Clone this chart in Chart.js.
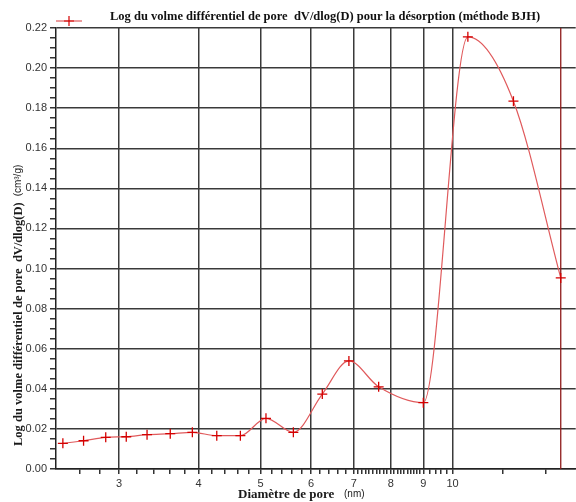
<!DOCTYPE html>
<html>
<head>
<meta charset="utf-8">
<script src="https://cdn.jsdelivr.net/npm/chart.js@4.4.1/dist/chart.umd.min.js"></script>
<style>
  html, body { margin: 0; padding: 0; background: #fff; }
  #cadre { width: 576px; height: 502px; overflow: hidden; }
</style>
</head>
<body>
<div id="cadre"><canvas id="myChart" width="582" height="502"></canvas></div>
<script>
  const diametre = [2.45, 2.64, 2.86, 3.08, 3.32, 3.61, 3.91, 4.27, 4.65, 5.10, 5.63, 6.25, 6.88, 7.66, 9.00, 10.57, 12.46, 14.78];
  const volume = [0.0128, 0.0141, 0.0158, 0.0161, 0.0171, 0.0176, 0.0183, 0.0166, 0.0166, 0.0253, 0.0183, 0.0374, 0.0539, 0.0410, 0.0331, 0.2156, 0.1835, 0.0953];

  // trait vertical rouge sur le dernier point
  const diametreMarque = 14.78;

  // graduations
  const xMajeures = [3, 4, 5, 6, 7, 8, 9, 10];
  const xMineures = [2.6, 2.8, 3.2, 3.4, 3.6, 3.8, 4.2, 4.4, 4.6, 4.8, 5.2, 5.4, 5.6, 5.8,
    6.2, 6.4, 6.6, 6.8, 7.1, 7.2, 7.3, 7.4, 7.5, 7.6, 7.7, 7.8, 7.9, 8.1, 8.2, 8.3, 8.4, 8.5,
    8.6, 8.7, 8.8, 8.9, 9.2, 9.4, 9.6, 9.8, 12, 14];
  const yLabels = ['0.00', '0.02', '0.04', '0.06', '0.08', '0.10', '0.12', '0.14', '0.16', '0.18', '0.20', '0.22'];
  const yPasMineur = 0.005;

  const titre = 'Log du volme différentiel de pore  dV/dlog(D) pour la désorption (méthode BJH)';
  const titreY = 'Log du volme différentiel de pore  dV/dlog(D)';
  const uniteY = '(cm³/g)';
  const titreX = 'Diamètre de pore';
  const uniteX = '(nm)';

  const rouge = '#e05a5c';
  const rougePoint = '#d40000';

  const estMajeurY = v => Math.abs(v / 0.02 - Math.round(v / 0.02)) < 1e-6;

  const textes = {
    id: 'textes',
    afterDraw(chart) {
      const c = chart.ctx;
      c.save();
      c.fillStyle = '#111';
      c.textBaseline = 'alphabetic';
      c.textAlign = 'left';
      // titre
      c.font = 'bold 12.5px "Liberation Serif"';
      c.fillText(titre, 110, 20);
      // légende
      c.strokeStyle = rouge;
      c.lineWidth = 1.2;
      c.beginPath();
      c.moveTo(56, 21); c.lineTo(82, 21);
      c.stroke();
      c.strokeStyle = rougePoint;
      c.beginPath();
      c.moveTo(64, 21); c.lineTo(74, 21);
      c.moveTo(69, 16); c.lineTo(69, 26);
      c.stroke();
      // titre axe x
      c.fillStyle = '#1a1a1a';
      c.font = 'bold 13px "Liberation Serif"';
      c.fillText(titreX, 238, 498);
      c.font = '10px "Liberation Sans"';
      c.fillText(uniteX, 344, 497);
      // titre axe y
      c.translate(22, 446);
      c.rotate(-Math.PI / 2);
      c.font = 'bold 12.5px "Liberation Serif"';
      c.fillText(titreY, 0, 0);
      const w = c.measureText(titreY).width;
      c.font = '10px "Liberation Sans"';
      c.fillText(uniteY, w + 6, -1);
      c.restore();
    }
  };

  const ctx = document.getElementById('myChart');

  new Chart(ctx, {
    type: 'line',
    data: {
      datasets: [
        {
          label: 'dV/dlog(D)',
          data: diametre.map((d, i) => ({ x: d, y: volume[i] })),
          borderColor: rouge,
          borderWidth: 1.2,
          cubicInterpolationMode: 'monotone',
          pointStyle: 'cross',
          pointRadius: 5,
          pointBorderColor: rougePoint,
          pointBorderWidth: 1.3,
          fill: false
        },
        {
          label: 'marque',
          data: [{ x: diametreMarque, y: 0 }, { x: diametreMarque, y: 0.22 }],
          borderColor: '#8e1b1b',
          borderWidth: 1.3,
          pointRadius: 0,
          fill: false
        }
      ]
    },
    options: {
      responsive: false,
      animation: false,
      layout: { padding: { top: 28, left: 0, right: 0, bottom: 0 } },
      plugins: {
        legend: { display: false },
        tooltip: { enabled: false },
        title: { display: false }
      },
      scales: {
        x: {
          type: 'logarithmic',
          min: 2.39,
          max: 15.6,
          afterBuildTicks: s => {
            s.ticks = [...xMajeures, ...xMineures].sort((a, b) => a - b).map(v => ({ value: v }));
          },
          afterFit: s => { s.height = 33; },
          ticks: {
            autoSkip: false,
            maxRotation: 0,
            padding: 3,
            color: '#333',
            font: { family: 'Liberation Sans', size: 11 },
            callback: v => xMajeures.includes(v) ? String(v) : ''
          },
          grid: {
            color: c => c.tick && xMajeures.includes(c.tick.value) ? '#3a3a3a' : 'rgba(0,0,0,0)',
            tickColor: '#333',
            lineWidth: 1.5,
            tickLength: 5
          },
          border: { display: true, color: '#222', width: 1.5 }
        },
        y: {
          min: 0,
          max: 0.22,
          afterBuildTicks: s => {
            const t = [];
            for (let i = 0; i <= 44; i++) t.push({ value: i * yPasMineur });
            s.ticks = t;
          },
          afterFit: s => { s.width = 56; },
          ticks: {
            autoSkip: false,
            padding: 3,
            color: '#333',
            font: { family: 'Liberation Sans', size: 11 },
            callback: v => estMajeurY(v) ? yLabels[Math.round(v / 0.02)] : ''
          },
          grid: {
            color: c => c.tick && estMajeurY(c.tick.value) ? '#3a3a3a' : 'rgba(0,0,0,0)',
            tickColor: '#333',
            lineWidth: 1.5,
            tickLength: 6
          },
          border: { display: true, color: '#222', width: 1.5 }
        }
      }
    },
    plugins: [textes]
  });
</script>
</body>
</html>
